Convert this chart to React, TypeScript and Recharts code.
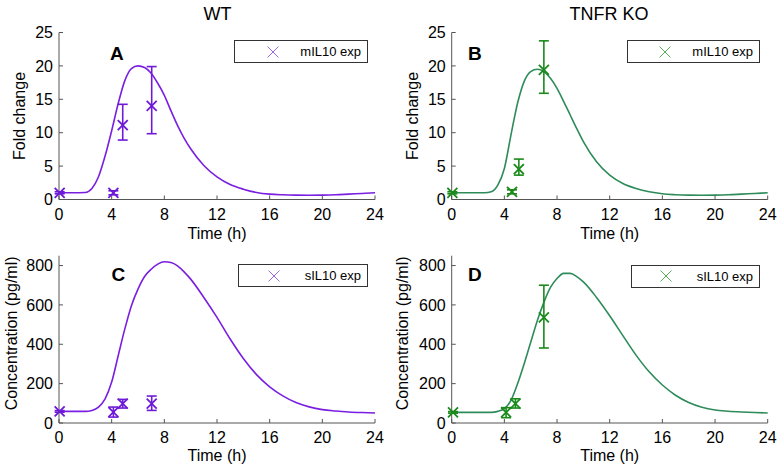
import React from 'react';
import { ComposedChart, Line, Scatter, ErrorBar, XAxis, YAxis, Legend } from 'recharts';

const FONT = '"Liberation Sans", Arial, Helvetica, sans-serif';
const PURPLE_LINE = '#7A1FE0';
const PURPLE_MARK = '#6E1AD8';
const PURPLE_LEG = '#9A66EA';
const GREEN_LINE = '#2E8B5A';
const GREEN_MARK = '#1A8A1A';
const GREEN_LEG = '#5AAE5A';
const AXIS = '#555555';

const timeTicks = [0, 4, 8, 12, 16, 20, 24];
const foldTicks = [0, 5, 10, 15, 20, 25];
const concTicks = [0, 200, 400, 600, 800];

// Panel A: WT mIL10 model (fold change)
const wtMrnaModel = [
  { t: 0, v: 1 }, { t: 1, v: 1 }, { t: 2, v: 1.05 }, { t: 2.5, v: 1.65 }, { t: 3, v: 3.4 },
  { t: 3.5, v: 6.5 }, { t: 4, v: 10.3 }, { t: 4.5, v: 14.4 }, { t: 5, v: 17.8 }, { t: 5.5, v: 19.6 },
  { t: 6, v: 20 }, { t: 6.5, v: 19.75 }, { t: 7, v: 18.9 }, { t: 7.5, v: 17.4 }, { t: 8, v: 15.6 },
  { t: 8.5, v: 13.3 }, { t: 9, v: 11.1 }, { t: 9.5, v: 9.2 }, { t: 10, v: 7.6 }, { t: 11, v: 5.1 },
  { t: 12, v: 3.4 }, { t: 13, v: 2.25 }, { t: 14, v: 1.55 }, { t: 15, v: 1.05 }, { t: 16, v: 0.8 },
  { t: 17, v: 0.7 }, { t: 18, v: 0.65 }, { t: 19, v: 0.63 }, { t: 20, v: 0.65 }, { t: 21, v: 0.7 },
  { t: 22, v: 0.8 }, { t: 23, v: 0.9 }, { t: 24, v: 1.0 },
];
const wtMrnaExp = [
  { t: 0.05, v: 1, lo: 0.85, hi: 1.15 },
  { t: 4.13, v: 1, lo: 0.7, hi: 1.3 },
  { t: 4.84, v: 11.15, lo: 8.9, hi: 14.25 },
  { t: 7.04, v: 14, lo: 9.85, hi: 19.9 },
];

// Panel B: TNFR KO mIL10 model
const koMrnaModel = [
  { t: 0, v: 1 }, { t: 1, v: 1 }, { t: 2, v: 1 }, { t: 2.5, v: 1 }, { t: 3, v: 1.15 },
  { t: 3.5, v: 2.15 }, { t: 4, v: 4.65 }, { t: 4.5, v: 9.65 }, { t: 5, v: 14.4 }, { t: 5.5, v: 17.65 },
  { t: 6, v: 19.15 }, { t: 6.5, v: 19.5 }, { t: 7, v: 19.15 }, { t: 7.5, v: 18.15 }, { t: 8, v: 16.65 },
  { t: 8.5, v: 14.7 }, { t: 9, v: 12.65 }, { t: 9.5, v: 10.6 }, { t: 10, v: 8.65 }, { t: 11, v: 5.65 },
  { t: 12, v: 3.65 }, { t: 13, v: 2.4 }, { t: 14, v: 1.65 }, { t: 15, v: 1.15 }, { t: 16, v: 0.85 },
  { t: 17, v: 0.72 }, { t: 18, v: 0.65 }, { t: 19, v: 0.63 }, { t: 20, v: 0.65 }, { t: 21, v: 0.7 },
  { t: 22, v: 0.8 }, { t: 23, v: 0.9 }, { t: 24, v: 1.0 },
];
const koMrnaExp = [
  { t: 0.05, v: 1, lo: 0.85, hi: 1.15 },
  { t: 4.58, v: 1.15, lo: 0.85, hi: 1.45 },
  { t: 5.1, v: 4.55, lo: 3.65, hi: 6.05 },
  { t: 7.0, v: 19.4, lo: 15.9, hi: 23.75 },
];

// Panel C: WT sIL10 model (pg/ml)
const wtProtModel = [
  { t: 0, v: 59 }, { t: 1, v: 59 }, { t: 2, v: 59 }, { t: 2.5, v: 64 }, { t: 3, v: 81 },
  { t: 3.5, v: 123 }, { t: 4, v: 208 }, { t: 4.5, v: 343 }, { t: 5, v: 478 }, { t: 5.5, v: 596 },
  { t: 6, v: 680 }, { t: 6.5, v: 744 }, { t: 7, v: 781 }, { t: 7.5, v: 807 }, { t: 8, v: 819 },
  { t: 8.5, v: 815 }, { t: 9, v: 798 }, { t: 9.5, v: 768 }, { t: 10, v: 731 }, { t: 11, v: 638 },
  { t: 12, v: 537 }, { t: 13, v: 427 }, { t: 14, v: 328 }, { t: 15, v: 246 }, { t: 16, v: 184 },
  { t: 17, v: 138 }, { t: 18, v: 104 }, { t: 19, v: 82 }, { t: 20, v: 68 }, { t: 21, v: 61 },
  { t: 22, v: 56 }, { t: 23, v: 53 }, { t: 24, v: 51 },
];
const wtProtExp = [
  { t: 0.05, v: 59, lo: 55, hi: 63 },
  { t: 4.13, v: 55, lo: 30, hi: 81 },
  { t: 4.84, v: 98, lo: 76, hi: 120 },
  { t: 7.04, v: 98, lo: 64, hi: 137 },
];

// Panel D: TNFR KO sIL10 model
const koProtModel = [
  { t: 0, v: 54 }, { t: 1, v: 54 }, { t: 2, v: 54 }, { t: 3, v: 54 }, { t: 3.5, v: 59 },
  { t: 4, v: 73 }, { t: 4.5, v: 115 }, { t: 5, v: 199 }, { t: 5.5, v: 300 }, { t: 6, v: 410 },
  { t: 6.5, v: 520 }, { t: 7, v: 613 }, { t: 7.5, v: 689 }, { t: 8, v: 734 }, { t: 8.5, v: 760 },
  { t: 9, v: 760 }, { t: 9.5, v: 744 }, { t: 10, v: 717 }, { t: 11, v: 638 }, { t: 12, v: 545 },
  { t: 13, v: 444 }, { t: 14, v: 345 }, { t: 15, v: 260 }, { t: 16, v: 193 }, { t: 17, v: 141 },
  { t: 18, v: 104 }, { t: 19, v: 80 }, { t: 20, v: 66 }, { t: 21, v: 60 }, { t: 22, v: 56 },
  { t: 23, v: 53 }, { t: 24, v: 51 },
];
const koProtExp = [
  { t: 0.1, v: 54, lo: 50, hi: 58 },
  { t: 4.13, v: 54, lo: 27, hi: 78 },
  { t: 4.84, v: 98, lo: 76, hi: 123 },
  { t: 7.0, v: 537, lo: 381, hi: 700 },
];

const withErr = (arr: { t: number; v: number; lo: number; hi: number }[]) =>
  arr.map((d) => ({ ...d, err: [d.v - d.lo, d.hi - d.v] }));

const makeXMark = (color: string, r: number, sw: number) => (props: any) => {
  const { cx, cy } = props;
  if (cx == null || cy == null) return <g />;
  return (
    <g>
      <line x1={cx - r} y1={cy - r} x2={cx + r} y2={cy + r} stroke={color} strokeWidth={sw} />
      <line x1={cx - r} y1={cy + r} x2={cx + r} y2={cy - r} stroke={color} strokeWidth={sw} />
    </g>
  );
};

type Box = { left: number; top: number; width: number; height: number; markerX: number };

type PanelProps = {
  x: number;
  y: number;
  h: number;
  plot: { left: number; right: number; top: number; bottom: number };
  model: { t: number; v: number }[];
  exp: { t: number; v: number; lo: number; hi: number }[];
  lineColor: string;
  markColor: string;
  legColor: string;
  yTicks: number[];
  yDomain: [number, number];
  yLabel: string;
  yLabelX: number;
  yLabelDy: number;
  xLabelDy: number;
  legendLabel: string;
  legendBox: Box;
};

const W = 390;
const YW = 50;
const XH = 35;

function Panel(p: PanelProps) {
  const H = p.h;
  const margin = {
    left: p.plot.left - YW,
    right: W - p.plot.right,
    top: p.plot.top,
    bottom: H - p.plot.bottom - XH,
  };
  const yCenter = margin.left + YW / 2;
  const lb = p.legendBox;
  const tickStyle = { fontSize: 16, fill: '#000', fontFamily: FONT };
  return (
    <div style={{ position: 'absolute', left: p.x, top: p.y, width: W, height: H }}>
      <ComposedChart width={W} height={H} margin={margin}>
        <XAxis
          xAxisId={0}
          dataKey="t"
          type="number"
          domain={[0, 24]}
          ticks={timeTicks}
          interval={0}
          height={XH}
          tickSize={-4}
          tickMargin={13}
          tick={tickStyle}
          stroke={AXIS}
          axisLine={{ stroke: AXIS }}
          tickLine={{ stroke: AXIS }}
          label={{ value: 'Time (h)', position: 'center', dy: p.xLabelDy, fontSize: 16, fill: '#000', fontFamily: FONT }}
        />
        <XAxis
          xAxisId="top"
          orientation="top"
          type="number"
          domain={[0, 24]}
          ticks={timeTicks}
          interval={0}
          height={0}
          tickSize={-4}
          tick={false}
          axisLine={{ stroke: AXIS }}
          tickLine={{ stroke: AXIS }}
        />
        <YAxis
          yAxisId={0}
          type="number"
          domain={p.yDomain}
          ticks={p.yTicks}
          interval={0}
          width={YW}
          tickSize={-4}
          tickMargin={10}
          tick={tickStyle}
          axisLine={{ stroke: AXIS }}
          tickLine={{ stroke: AXIS }}
          label={{
            value: p.yLabel,
            angle: -90,
            position: 'center',
            dx: p.yLabelX - yCenter,
            dy: p.yLabelDy,
            fontSize: 16,
            fill: '#000',
            fontFamily: FONT,
          }}
        />
        <YAxis
          yAxisId="right"
          orientation="right"
          type="number"
          domain={p.yDomain}
          ticks={p.yTicks}
          interval={0}
          width={0}
          tickSize={-4}
          tick={false}
          axisLine={{ stroke: AXIS }}
          tickLine={{ stroke: AXIS }}
        />
        <Line
          data={p.model}
          dataKey="v"
          type="monotone"
          stroke={p.lineColor}
          strokeWidth={1.6}
          dot={false}
          activeDot={false}
          isAnimationActive={false}
          legendType="none"
        />
        <Scatter
          data={withErr(p.exp)}
          dataKey="v"
          fill={p.markColor}
          shape={makeXMark(p.markColor, 5, 1.8)}
          isAnimationActive={false}
        >
          <ErrorBar dataKey="err" direction="y" width={5} stroke={p.markColor} strokeWidth={1.6} />
        </Scatter>
        <Legend
          layout="horizontal"
          verticalAlign="middle"
          align="center"
          wrapperStyle={{ left: lb.left, top: lb.top, width: lb.width, height: lb.height }}
          content={() => (
            <div
              style={{
                boxSizing: 'border-box',
                width: lb.width,
                height: lb.height,
                border: '1px solid #333',
                background: '#fff',
                position: 'relative',
                fontFamily: FONT,
                fontSize: 13,
                color: '#000',
              }}
            >
              <svg
                width={14}
                height={14}
                style={{ position: 'absolute', left: lb.markerX - lb.left - 7, top: lb.height / 2 - 8 }}
              >
                <line x1={1.5} y1={1.5} x2={12.5} y2={12.5} stroke={p.legColor} strokeWidth={1} />
                <line x1={1.5} y1={12.5} x2={12.5} y2={1.5} stroke={p.legColor} strokeWidth={1} />
              </svg>
              <span
                style={{
                  position: 'absolute',
                  right: 6,
                  top: 0,
                  lineHeight: `${lb.height - 2}px`,
                  whiteSpace: 'nowrap',
                }}
              >
                {p.legendLabel}
              </span>
            </div>
          )}
        />
      </ComposedChart>
    </div>
  );
}

export default function App() {
  return (
    <div style={{ position: 'absolute', left: 0, top: 0, width: 780, height: 470, background: '#fff', fontFamily: FONT }}>
      <Panel
        x={0}
        y={235}
        h={235}
        plot={{ left: 59, right: 375, top: 20.7, bottom: 188 }}
        model={wtProtModel}
        exp={wtProtExp}
        lineColor={PURPLE_LINE}
        markColor={PURPLE_MARK}
        legColor={PURPLE_LEG}
        yTicks={concTicks}
        yDomain={[0, 850]}
        yLabel="Concentration (pg/ml)"
        yLabelX={11}
        yLabelDy={-6}
        xLabelDy={15}
        legendLabel="sIL10 exp"
        legendBox={{ left: 238, top: 29, width: 130, height: 23, markerX: 273 }}
      />
      <Panel
        x={390}
        y={235}
        h={235}
        plot={{ left: 61.7, right: 377.7, top: 20.7, bottom: 188 }}
        model={koProtModel}
        exp={koProtExp}
        lineColor={GREEN_LINE}
        markColor={GREEN_MARK}
        legColor={GREEN_LEG}
        yTicks={concTicks}
        yDomain={[0, 850]}
        yLabel="Concentration (pg/ml)"
        yLabelX={12.5}
        yLabelDy={-6}
        xLabelDy={15}
        legendLabel="sIL10 exp"
        legendBox={{ left: 241, top: 29.5, width: 129, height: 23, markerX: 275 }}
      />
      <Panel
        x={0}
        y={0}
        h={252}
        plot={{ left: 59, right: 375, top: 32.5, bottom: 199.5 }}
        model={wtMrnaModel}
        exp={wtMrnaExp}
        lineColor={PURPLE_LINE}
        markColor={PURPLE_MARK}
        legColor={PURPLE_LEG}
        yTicks={foldTicks}
        yDomain={[0, 25]}
        yLabel="Fold change"
        yLabelX={19}
        yLabelDy={0}
        xLabelDy={16}
        legendLabel="mIL10 exp"
        legendBox={{ left: 234, top: 40, width: 134, height: 23, markerX: 272 }}
      />
      <Panel
        x={390}
        y={0}
        h={252}
        plot={{ left: 61.7, right: 377.7, top: 32.5, bottom: 199.5 }}
        model={koMrnaModel}
        exp={koMrnaExp}
        lineColor={GREEN_LINE}
        markColor={GREEN_MARK}
        legColor={GREEN_LEG}
        yTicks={foldTicks}
        yDomain={[0, 25]}
        yLabel="Fold change"
        yLabelX={22.5}
        yLabelDy={0}
        xLabelDy={16}
        legendLabel="mIL10 exp"
        legendBox={{ left: 237, top: 40, width: 133, height: 23, markerX: 274 }}
      />
      <svg
        width={780}
        height={470}
        style={{ position: 'absolute', left: 0, top: 0, pointerEvents: 'none' }}
      >
        <text x={217.5} y={19.5} textAnchor="middle" fontSize={18} fontFamily={FONT} fill="#000">WT</text>
        <text x={609} y={19.5} textAnchor="middle" fontSize={18} fontFamily={FONT} fill="#000">TNFR KO</text>
        <text x={110} y={60} fontSize={19} fontWeight="bold" fontFamily={FONT} fill="#000">A</text>
        <text x={468} y={60} fontSize={19} fontWeight="bold" fontFamily={FONT} fill="#000">B</text>
        <text x={111.5} y={280.5} fontSize={19} fontWeight="bold" fontFamily={FONT} fill="#000">C</text>
        <text x={468} y={281} fontSize={19} fontWeight="bold" fontFamily={FONT} fill="#000">D</text>
      </svg>
    </div>
  );
}
